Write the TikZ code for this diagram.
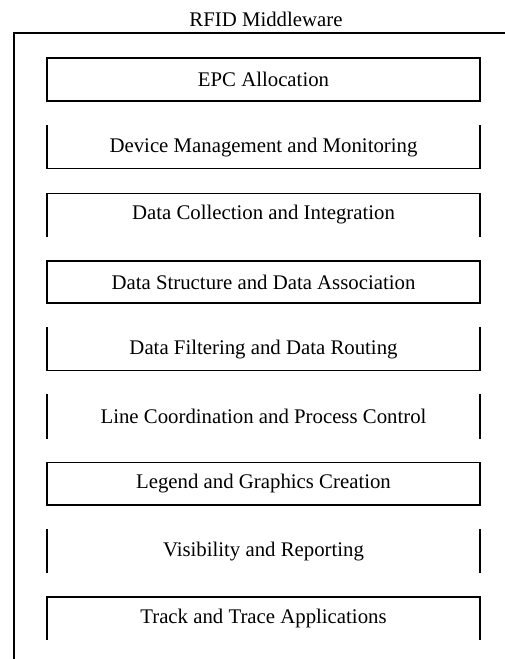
\documentclass[tikz,border=0pt]{standalone}
\usepackage{fontspec}
\setmainfont{Liberation Serif}
\begin{document}
\begin{tikzpicture}[x=1pt,y=-1pt,
  layer/.style={rectangle,draw=none,minimum width=433pt,minimum height=42pt,
    inner sep=0pt,font=\fontsize{20.8}{24}\selectfont},
  edge/.style={line width=1.7pt,line cap=rect},
  titletext/.style={font=\fontsize{20.8}{24}\selectfont}]
\useasboundingbox (0,0) rectangle (505,659);

% outer frame: only the top and left sides are shown
\node[titletext] (title) at (266,19) {RFID Middleware};
\coordinate (frameTL) at (14,33);
\coordinate (frameTR) at (505,33);
\coordinate (frameBL) at (14,659);
\draw[edge,line cap=butt] (frameTR) -- (frameTL) -- (frameBL);

% the nine layers
\node[layer] (l1) at (263.5,79.5)  {EPC Allocation};
\node[layer] (l2) at (263.5,147.3) {Device Management and Monitoring};
\node[layer] (l3) at (263.5,214.6) {Data Collection and Integration};
\node[layer] (l4) at (263.5,281.9) {Data Structure and Data Association};
\node[layer] (l5) at (263.5,349.2) {Data Filtering and Data Routing};
\node[layer] (l6) at (263.5,416.5) {Line Coordination and Process Control};
\node[layer] (l7) at (263.5,483.8) {Legend and Graphics Creation};
\node[layer] (l8) at (263.5,551.1) {Visibility and Reporting};
\node[layer] (l9) at (263.5,618.4) {Track and Trace Applications};

% full boxes
\foreach \n in {l1,l4,l7}
  \draw[edge] (\n.north west) rectangle (\n.south east);
% sides and bottom
\foreach \n in {l2,l5}
  \draw[edge] (\n.north west) -- (\n.south west) -- (\n.south east) -- (\n.north east);
% top and sides
\foreach \n in {l3,l9}
  \draw[edge] (\n.south west) -- (\n.north west) -- (\n.north east) -- (\n.south east);
% sides only
\foreach \n in {l6,l8} {
  \draw[edge] (\n.north west) -- (\n.south west);
  \draw[edge] (\n.north east) -- (\n.south east);
}
\end{tikzpicture}
\end{document}
